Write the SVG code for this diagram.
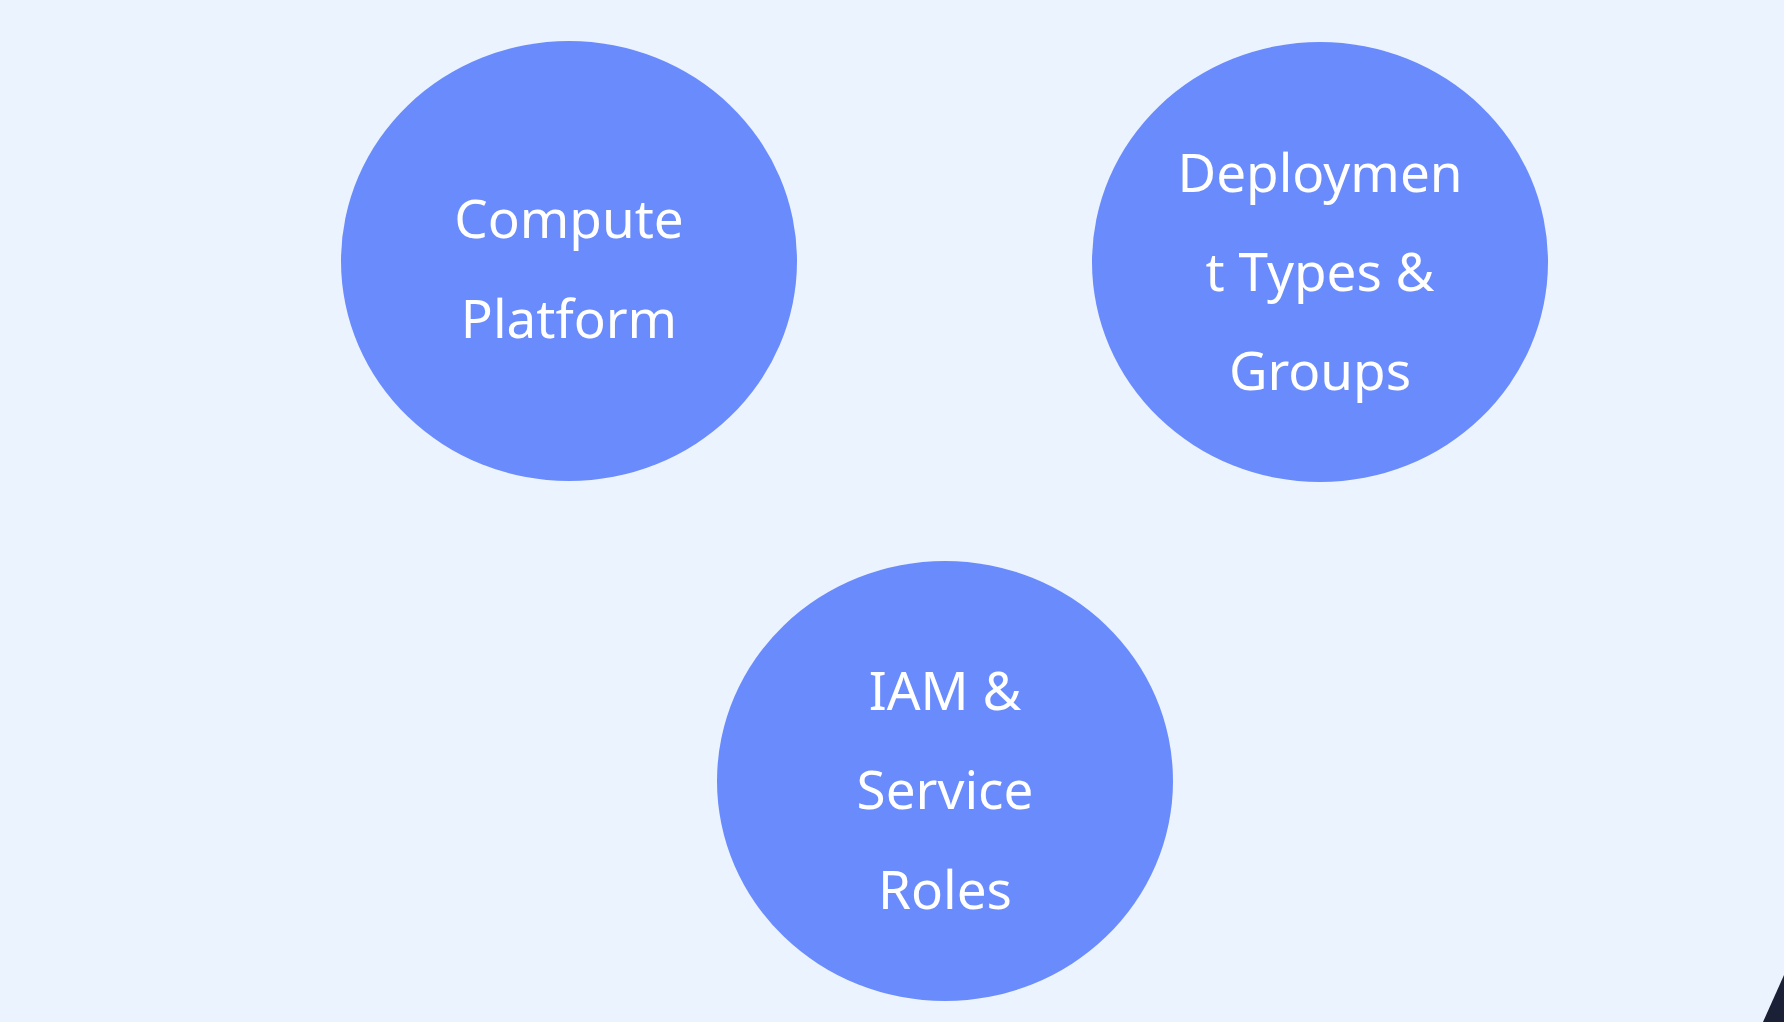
<svg xmlns="http://www.w3.org/2000/svg" width="1784" height="1022" viewBox="0 0 1784 1022">
  <style>
    .node { fill: #6A8BFC; }
    .label { fill: #FFFFFF; font-family: "Noto Sans", "Open Sans", sans-serif; font-size: 53px; text-anchor: middle; }
  </style>
  <rect x="0" y="0" width="1784" height="1022" fill="#EBF3FE"/>
  <g id="connectors"></g>
  <g id="node-compute">
    <ellipse class="node" cx="569" cy="261" rx="228" ry="220"/>
    <text class="label" x="569" y="238">Compute</text>
    <text class="label" x="569" y="338">Platform</text>
  </g>
  <g id="node-deployment">
    <ellipse class="node" cx="1320" cy="262" rx="228" ry="220"/>
    <text class="label" x="1320" y="192">Deploymen</text>
    <text class="label" x="1320" y="291">t Types &amp;</text>
    <text class="label" x="1320" y="390">Groups</text>
  </g>
  <g id="node-iam">
    <ellipse class="node" cx="945" cy="781" rx="228" ry="220"/>
    <text class="label" x="945" y="710">IAM &amp;</text>
    <text class="label" x="945" y="809">Service</text>
    <text class="label" x="945" y="909">Roles</text>
  </g>
  <polygon points="1763,1022 1784,975 1784,1022" fill="#1A2035"/>
</svg>
